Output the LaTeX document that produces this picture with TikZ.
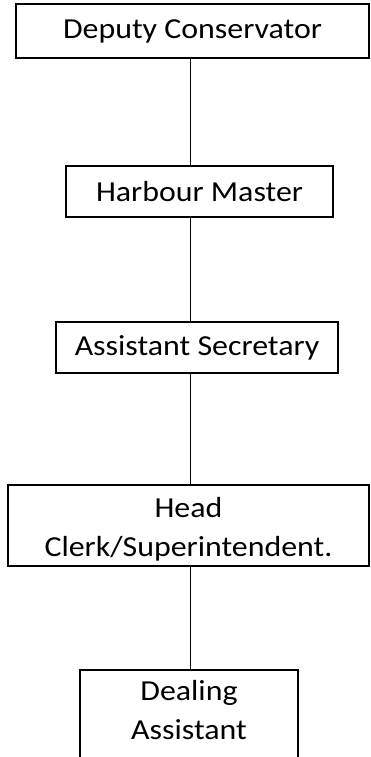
\documentclass[tikz,border=0pt]{standalone}
\usepackage{fontspec}
\setmainfont{Carlito}[FakeStretch=1.1]
\begin{document}
\begin{tikzpicture}[x=1pt,y=-1pt,
  box/.style={draw, line width=1.6pt, inner sep=0pt, align=center,
    font=\fontsize{29}{39}\selectfont},
  link/.style={line width=1.6pt}]
\useasboundingbox (0,0) rectangle (370,757);
\clip (0,0) rectangle (370,757);
\coordinate (axis) at (190.3,0);
\node[box, minimum width=353pt, minimum height=54pt] (b1) at (192.5,31) {Deputy Conservator};
\node[box, minimum width=267pt, minimum height=51pt] (b2) at (199.5,191.5) {Harbour Master};
\node[box, minimum width=282pt, minimum height=51pt] (b3) at (197,347.5) {Assistant Secretary};
\node[box, minimum width=361pt, minimum height=81pt, text height=62pt, text depth=0pt] (b4) at (188.5,525.5) {Head\\Clerk/Superintendent.};
\node[box, minimum width=218pt, minimum height=130pt, anchor=north] (b5) at (189,669) {};
\node[align=center, anchor=base, inner sep=0pt, font=\fontsize{29}{39}\selectfont] (t5) at (189,739) {Dealing\\Assistant};
\draw[link] (b1.south -| axis) -- (b2.north -| axis);
\draw[link] (b2.south -| axis) -- (b3.north -| axis);
\draw[link] (b3.south -| axis) -- (b4.north -| axis);
\draw[link] (b4.south -| axis) -- (b5.north -| axis);
\end{tikzpicture}
\end{document}
